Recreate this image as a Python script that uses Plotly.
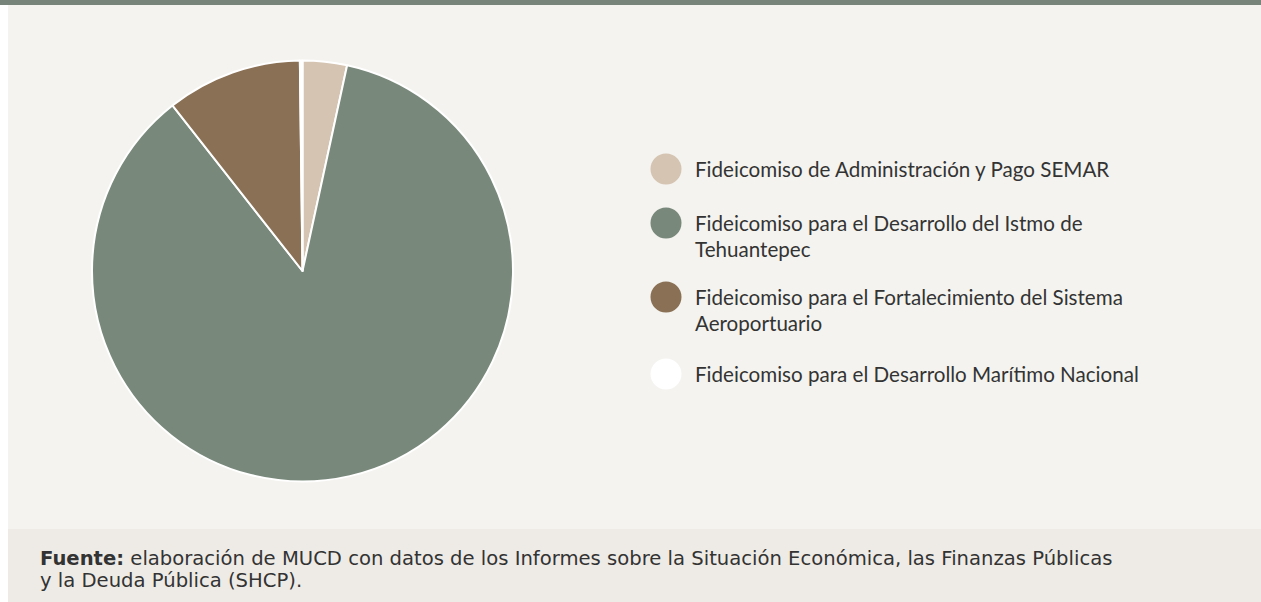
import plotly.graph_objects as go

W, H = 1261, 602

labels = [
    "Fideicomiso de Administración y Pago SEMAR",
    "Fideicomiso para el Desarrollo del Istmo de Tehuantepec",
    "Fideicomiso para el Fortalecimiento del Sistema Aeroportuario",
    "Fideicomiso para el Desarrollo Marítimo Nacional",
]
legend_lines = [
    ["Fideicomiso de Administración y Pago SEMAR"],
    ["Fideicomiso para el Desarrollo del Istmo de", "Tehuantepec"],
    ["Fideicomiso para el Fortalecimiento del Sistema", "Aeroportuario"],
    ["Fideicomiso para el Desarrollo Marítimo Nacional"],
]
values = [3.4, 86.0, 10.4, 0.2]
colors = ["#d4c4b1", "#78887a", "#8a7054", "#ffffff"]

footer_lines = [
    "<b>Fuente:</b> elaboración de MUCD con datos de los Informes sobre la Situación Económica, las Finanzas Públicas",
    "y la Deuda Pública (SHCP).",
]

LEG_FONT = "Lato"
FOOT_FONT = "DejaVu Sans"
TXT = "#333333"


def px(x):
    return x / W


def py(y):
    return 1 - y / H


cx, cy, r = 302.5, 271, 210.5

fig = go.Figure()
fig.add_trace(go.Pie(
    labels=labels, values=values, sort=False, direction="clockwise", rotation=0,
    marker=dict(colors=colors, line=dict(color="#ffffff", width=2)),
    textinfo="none", hoverinfo="label+percent", showlegend=False,
    domain=dict(x=[px(cx - r), px(cx + r)], y=[py(cy + r), py(cy - r)]),
))

shapes = [
    dict(type="rect", xref="paper", yref="paper", x0=0, x1=1, y0=py(5), y1=1,
         fillcolor="#77847a", line=dict(width=0), layer="below"),
    dict(type="rect", xref="paper", yref="paper", x0=0, x1=px(8), y0=0, y1=py(5),
         fillcolor="#ffffff", line=dict(width=0), layer="below"),
    dict(type="rect", xref="paper", yref="paper", x0=px(8), x1=1, y0=0, y1=py(529),
         fillcolor="#eeebe6", line=dict(width=0), layer="below"),
]
annotations = []
leg_y = [169, 223, 297, 374]
for i, (lines, c) in enumerate(zip(legend_lines, colors)):
    y = leg_y[i]
    shapes.append(dict(type="circle", xref="paper", yref="paper",
                       x0=px(666 - 15.5), x1=px(666 + 15.5), y0=py(y + 15.5), y1=py(y - 15.5),
                       fillcolor=c, line=dict(width=0)))
    for j, t in enumerate(lines):
        annotations.append(dict(
            xref="paper", yref="paper", x=px(693), y=py(y + 26 * j),
            xanchor="left", yanchor="middle",
            text=t, showarrow=False, align="left",
            font=dict(family=LEG_FONT, size=20.6, color=TXT),
        ))

foot_y = [558, 580]
for t, y in zip(footer_lines, foot_y):
    annotations.append(dict(
        xref="paper", yref="paper", x=px(38), y=py(y), xanchor="left", yanchor="middle",
        text=t, showarrow=False, align="left",
        font=dict(family=FOOT_FONT, size=19.6, color=TXT),
    ))

fig.update_layout(
    width=W, height=H, margin=dict(l=0, r=0, t=0, b=0),
    paper_bgcolor="#f4f3ef", plot_bgcolor="#f4f3ef",
    shapes=shapes, annotations=annotations,
)

fig.write_html("out.html", config={"displayModeBar": False},
               post_script="document.body.style.margin='0';document.body.style.overflow='hidden';")
